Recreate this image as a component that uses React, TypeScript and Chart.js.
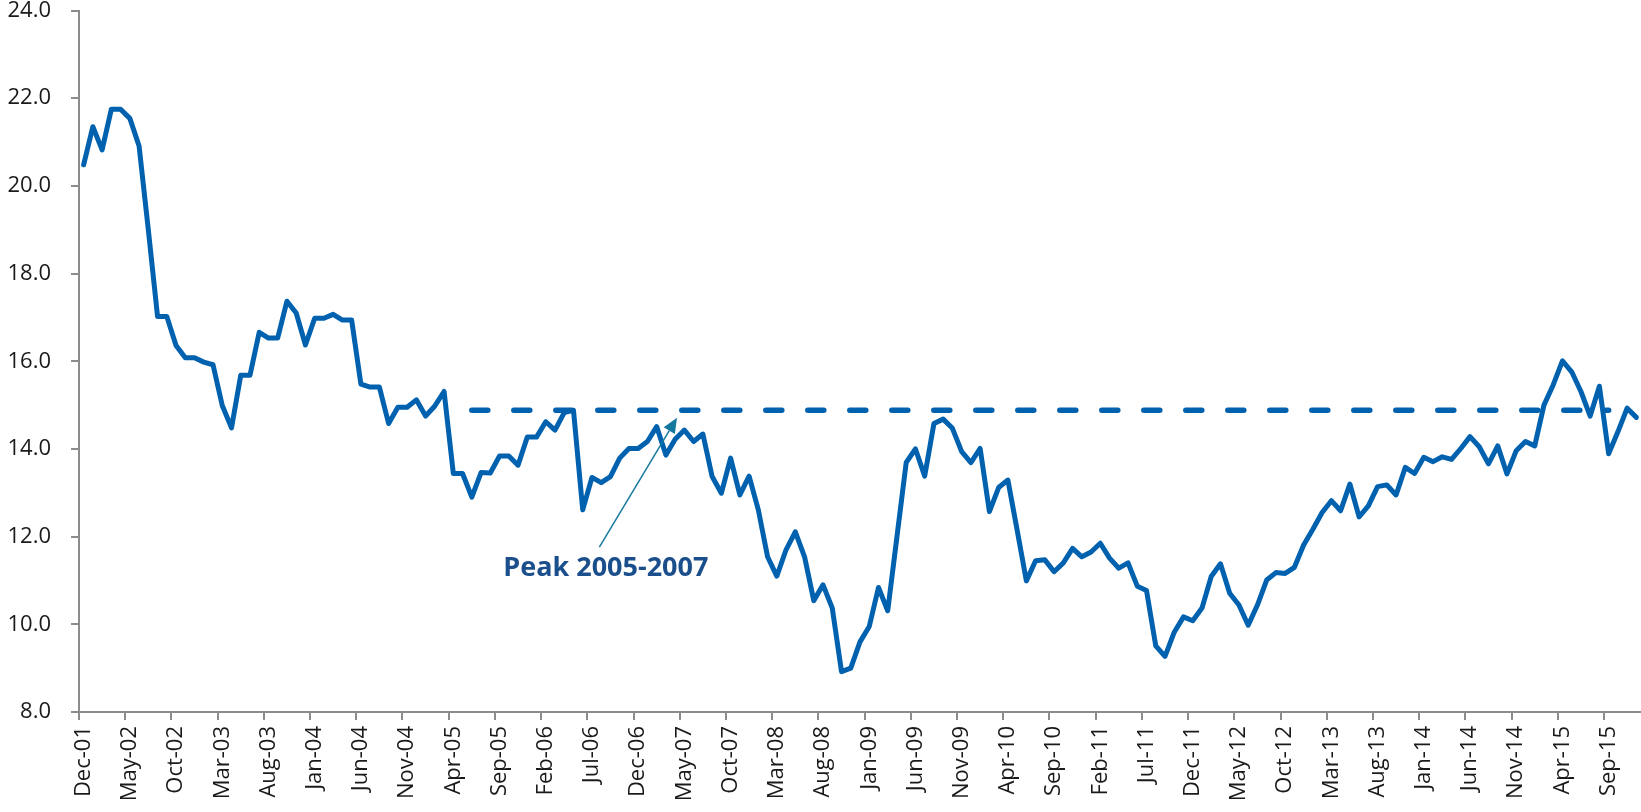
import React, { useEffect, useRef } from 'react';
import { Chart, registerables } from 'chart.js';

Chart.register(...registerables);

// ---------- categories (monthly, Dec-01 .. Dec-15) ----------
const MONTH_NAMES = ['Jan', 'Feb', 'Mar', 'Apr', 'May', 'Jun', 'Jul', 'Aug', 'Sep', 'Oct', 'Nov', 'Dec'];
const START_YEAR = 2001;
const START_MONTH_INDEX = 11; // December
const MONTH_COUNT = 169;
const categories: string[] = [];
for (let k = 0; k < MONTH_COUNT; k++) {
  const m = (START_MONTH_INDEX + k) % 12;
  const yr = START_YEAR + Math.floor((START_MONTH_INDEX + k) / 12);
  categories.push(`${MONTH_NAMES[m]}-${String(yr % 100).padStart(2, '0')}`);
}

// ---------- tick labels shown on the x axis ----------
const TICK_LABELS = [
  'Dec-01', 'May-02', 'Oct-02', 'Mar-03', 'Aug-03', 'Jan-04', 'Jun-04', 'Nov-04', 'Apr-05', 'Sep-05',
  'Feb-06', 'Jul-06', 'Dec-06', 'May-07', 'Oct-07', 'Mar-08', 'Aug-08', 'Jan-09', 'Jun-09', 'Nov-09',
  'Apr-10', 'Sep-10', 'Feb-11', 'Jul-11', 'Dec-11', 'May-12', 'Oct-12', 'Mar-13', 'Aug-13', 'Jan-14',
  'Jun-14', 'Nov-14', 'Apr-15', 'Sep-15',
];
const Y_MIN = 8;
const Y_MAX = 24;
const Y_STEP = 2;

// ---------- series values ----------
const values2002 = [20.48, 21.35, 20.82, 21.75, 21.75, 21.54, 20.91, 19.0, 17.02, 17.02, 16.36, 16.08, 16.08];
const values2003 = [15.98, 15.92, 14.99, 14.48, 15.68, 15.68, 16.66, 16.53, 16.53, 17.37, 17.1, 16.37];
const values2004 = [16.98, 16.98, 17.07, 16.94, 16.94, 15.48, 15.41, 15.41, 14.58, 14.95, 14.95, 15.12];
const values2005 = [14.75, 14.98, 15.31, 13.44, 13.44, 12.9, 13.46, 13.45, 13.84, 13.84, 13.63, 14.27];
const values2006 = [14.27, 14.62, 14.43, 14.83, 14.88, 12.61, 13.35, 13.23, 13.37, 13.79, 14.01, 14.01];
const values2007 = [14.17, 14.51, 13.86, 14.22, 14.43, 14.17, 14.34, 13.37, 12.99, 13.79, 12.95, 13.38];
const values2008 = [12.61, 11.54, 11.1, 11.7, 12.11, 11.54, 10.54, 10.9, 10.37, 8.92, 9.0, 9.6];
const values2009 = [9.95, 10.84, 10.31, 12.0, 13.69, 14.0, 13.38, 14.58, 14.68, 14.47, 13.94, 13.69];
const values2010 = [14.01, 12.57, 13.12, 13.29, 12.15, 10.99, 11.45, 11.47, 11.2, 11.4, 11.73, 11.54];
const values2011 = [11.65, 11.85, 11.51, 11.28, 11.4, 10.87, 10.77, 9.51, 9.27, 9.82, 10.17, 10.08];
const values2012 = [10.37, 11.09, 11.38, 10.71, 10.44, 9.98, 10.44, 11.01, 11.18, 11.16, 11.3, 11.81];
const values2013 = [12.17, 12.55, 12.82, 12.59, 13.2, 12.45, 12.7, 13.14, 13.18, 12.95, 13.58, 13.44];
const values2014 = [13.81, 13.71, 13.82, 13.76, 14.01, 14.28, 14.05, 13.66, 14.07, 13.43, 13.96, 14.17];
const values2015 = [14.07, 15.0, 15.46, 16.01, 15.76, 15.31, 14.75, 15.43, 13.89, 14.39, 14.93, 14.72];

const seriesValues = [
  ...values2002, ...values2003, ...values2004, ...values2005, ...values2006, ...values2007, ...values2008,
  ...values2009, ...values2010, ...values2011, ...values2012, ...values2013, ...values2014, ...values2015,
];

// ---------- peak reference line ----------
const PEAK_LEVEL = 14.88;
const PEAK_START = 'Jun-05';
const PEAK_END = 'Sep-15';

// ---------- annotation ----------
const NOTE_TEXT = 'Peak 2005-2007';
const NOTE_TEXT_AT = { cat: 56.5, val: 11.1 };
const ARROW_FROM = { cat: 55.8, val: 11.76 };
const ARROW_TO = { cat: 64.2, val: 14.71 };

const LINE_COLOR = '#0061AF';
const AXIS_COLOR = '#8c8c8c';
const TEXT_COLOR = '#1a1a1a';
const FONT = '"Open Sans", "DejaVu Sans", sans-serif';

const peakNotePlugin = {
  id: 'peakNote',
  afterDatasetsDraw(chart: any) {
    const { ctx } = chart;
    const xs = chart.scales.x;
    const ys = chart.scales.y;
    const x0 = xs.getPixelForValue(ARROW_FROM.cat);
    const y0 = ys.getPixelForValue(ARROW_FROM.val);
    const x1 = xs.getPixelForValue(ARROW_TO.cat);
    const y1 = ys.getPixelForValue(ARROW_TO.val);
    const ang = Math.atan2(y1 - y0, x1 - x0);
    const headLen = 15;
    const headHalf = 6.5;
    const bx = x1 - headLen * Math.cos(ang);
    const by = y1 - headLen * Math.sin(ang);
    ctx.save();
    ctx.strokeStyle = '#15799E';
    ctx.fillStyle = '#15799E';
    ctx.lineWidth = 1.5;
    ctx.beginPath();
    ctx.moveTo(x0, y0);
    ctx.lineTo(bx, by);
    ctx.stroke();
    ctx.beginPath();
    ctx.moveTo(x1, y1);
    ctx.lineTo(bx + headHalf * Math.sin(ang), by - headHalf * Math.cos(ang));
    ctx.lineTo(bx - headHalf * Math.sin(ang), by + headHalf * Math.cos(ang));
    ctx.closePath();
    ctx.fill();
    ctx.font = `bold 27px ${FONT}`;
    ctx.fillStyle = '#1B4F8C';
    ctx.textAlign = 'center';
    ctx.textBaseline = 'alphabetic';
    ctx.fillText(NOTE_TEXT, xs.getPixelForValue(NOTE_TEXT_AT.cat), ys.getPixelForValue(NOTE_TEXT_AT.val));
    ctx.restore();
  },
};

export default function App() {
  const canvasRef = useRef<HTMLCanvasElement | null>(null);

  useEffect(() => {
    if (!canvasRef.current) return;
    const tickSet = new Set(TICK_LABELS);
    const startIdx = categories.indexOf(PEAK_START);
    const endIdx = categories.indexOf(PEAK_END);
    const peakData = categories.map((_, i) => (i >= startIdx && i <= endIdx ? PEAK_LEVEL : null));

    const chart = new Chart(canvasRef.current, {
      type: 'line',
      data: {
        labels: categories,
        datasets: [
          {
            data: seriesValues,
            borderColor: LINE_COLOR,
            borderWidth: 5,
            pointRadius: 0,
            tension: 0,
            borderJoinStyle: 'round',
            borderCapStyle: 'round',
          },
          {
            data: peakData,
            borderColor: LINE_COLOR,
            borderWidth: 5.5,
            borderDash: [16, 26],
            borderCapStyle: 'round',
            pointRadius: 0,
            tension: 0,
            spanGaps: false,
          },
        ],
      },
      options: {
        animation: false,
        responsive: true,
        maintainAspectRatio: false,
        devicePixelRatio: 1,
        layout: { padding: { top: 10.5, right: 0, left: 0, bottom: 0 } },
        plugins: { legend: { display: false }, tooltip: { enabled: false } },
        scales: {
          x: {
            type: 'category',
            offset: true,
            grid: {
              display: true,
              offset: true,
              drawOnChartArea: false,
              drawTicks: true,
              tickLength: 8,
              lineWidth: 2,
              color: (c: any) =>
                typeof c.index === 'number' && tickSet.has(categories[c.index]) ? AXIS_COLOR : 'rgba(0,0,0,0)',
            },
            border: { display: true, color: AXIS_COLOR, width: 2 },
            ticks: {
              autoSkip: false,
              maxRotation: 90,
              minRotation: 90,
              padding: 6,
              color: TEXT_COLOR,
              font: { family: FONT, size: 22 },
              callback: (_v: any, idx: number) => (tickSet.has(categories[idx]) ? categories[idx] : ''),
            },
            afterFit: (s: any) => {
              s.height = 100;
              s.paddingLeft = 0;
              s.paddingRight = 0;
            },
          },
          y: {
            min: Y_MIN,
            max: Y_MAX,
            grid: {
              display: true,
              drawOnChartArea: false,
              drawTicks: true,
              tickLength: 8,
              lineWidth: 2,
              color: AXIS_COLOR,
            },
            border: { display: true, color: AXIS_COLOR, width: 2 },
            ticks: {
              stepSize: Y_STEP,
              padding: 20,
              color: TEXT_COLOR,
              font: { family: FONT, size: 22 },
              callback: (v: any) => Number(v).toFixed(1),
            },
            afterFit: (s: any) => {
              s.width = 79;
              s.paddingTop = 0;
              s.paddingBottom = 0;
            },
          },
        },
      },
      plugins: [peakNotePlugin],
    });
    return () => chart.destroy();
  }, []);

  return (
    <div style={{ position: 'fixed', left: 0, top: 0, width: 1641, height: 812, background: '#fff' }}>
      <canvas ref={canvasRef} />
    </div>
  );
}
